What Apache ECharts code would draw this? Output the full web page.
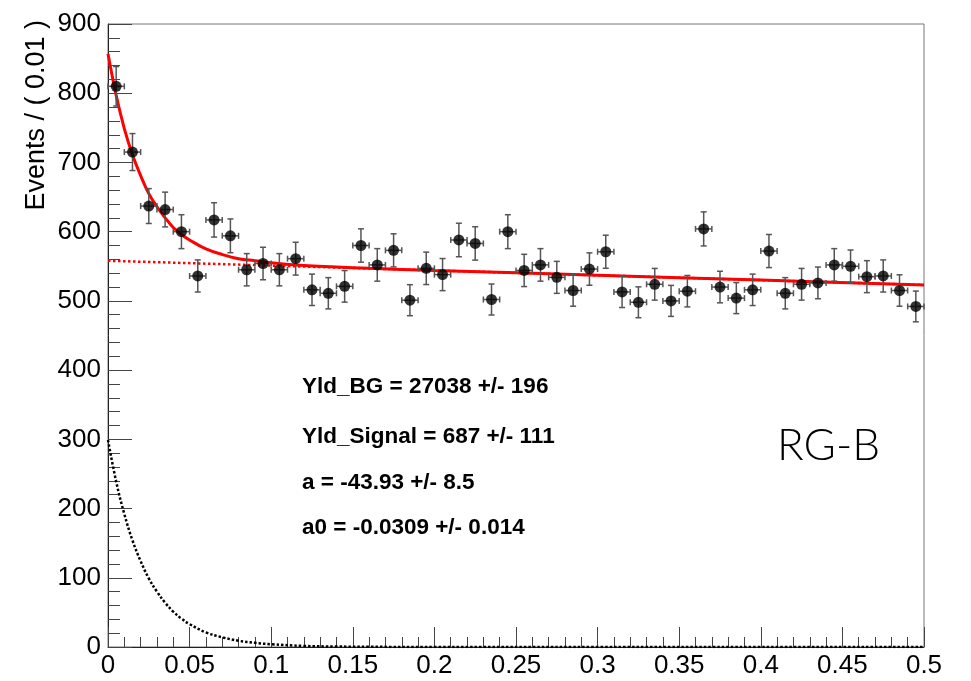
<!DOCTYPE html>
<html><head><meta charset="utf-8">
<script src="https://cdn.jsdelivr.net/npm/echarts@6/dist/echarts.min.js"></script>
<style>html,body{margin:0;padding:0;background:#fff}#c{width:971px;height:681px}</style>
</head><body><div id="c"></div>
<script>
// Data
const binCenters = [0.005,0.015,0.025,0.035,0.045,0.055,0.065,0.075,0.085,0.095,
  0.105,0.115,0.125,0.135,0.145,0.155,0.165,0.175,0.185,0.195,
  0.205,0.215,0.225,0.235,0.245,0.255,0.265,0.275,0.285,0.295,
  0.305,0.315,0.325,0.335,0.345,0.355,0.365,0.375,0.385,0.395,
  0.405,0.415,0.425,0.435,0.445,0.455,0.465,0.475,0.485,0.495];
const counts = [810,715,637,632,600,536,617,594,545,554,
  545,561,516,511,521,580,552,573,501,547,
  538,588,583,502,600,544,552,534,515,546,
  571,513,498,524,500,514,604,520,504,516,
  572,511,524,526,552,550,535,536,515,492];
const errors = [28.5,26.7,25.2,25.1,24.5,23.2,24.8,24.4,23.3,23.5,
  23.3,23.7,22.7,22.6,22.8,24.1,23.5,23.9,22.4,23.4,
  23.2,24.2,24.1,22.4,24.5,23.3,23.5,23.1,22.7,23.4,
  23.9,22.6,22.3,22.9,22.4,22.7,24.6,22.8,22.4,22.7,
  23.9,22.6,22.9,22.9,23.5,23.5,23.1,23.2,22.7,22.2];
const halfBin = 0.005;

const curveX = [0,0.005,0.01,0.015,0.02,0.025,0.03,0.035,0.04,0.045,0.05,0.06,0.07,0.08,0.09,0.1,0.12,0.14,0.16,0.2,0.3,0.4,0.5];
const signalY = [299,239,192,154,124,99,80,64,51,41,33,21,14,9,6,4,1.5,0.7,0.3,0,0,0,0];
const totalY = [857,797,749,711,681,655,636,620,606,596,588,575,567,561,558,555,551,549,547,544,537,530,523];
const bgX = [0,0.5];
const bgY = [558,523];

const xTicks = {min:0,max:0.5,interval:0.05};
const yTicks = {min:0,max:900,interval:100};

const statLines = ["Yld_BG = 27038 +/- 196","Yld_Signal = 687 +/- 111","a = -43.93 +/- 8.5","a0 = -0.0309 +/- 0.014"];
const yTitle = "Events / ( 0.01 )";
const tag = "RG-B";

const pts = binCenters.map((x,i)=>[x,counts[i],errors[i]]);
const zip = (a,b)=>a.map((v,i)=>[v,b[i]]);

const chart = echarts.init(document.getElementById('c'));
const font = '"Liberation Sans", Arial, Helvetica, sans-serif';
chart.setOption({
  animation:false,
  grid:{left:108,right:47,top:24,bottom:34,show:true,borderColor:'#777',borderWidth:1},
  xAxis:{type:'value',min:xTicks.min,max:xTicks.max,interval:xTicks.interval,
    axisLine:{lineStyle:{color:'#222',width:1}},
    axisTick:{inside:true,length:20,lineStyle:{color:'#444'}},
    minorTick:{show:true,splitNumber:5,length:10,lineStyle:{color:'#444'}},
    splitLine:{show:false},
    axisLabel:{fontFamily:font,fontSize:26,color:'#000',margin:6,
      formatter:v=>String(parseFloat(v.toFixed(3)))}},
  yAxis:{type:'value',min:yTicks.min,max:yTicks.max,interval:yTicks.interval,
    axisLine:{show:true,lineStyle:{color:'#222',width:1}},
    axisTick:{inside:true,length:24,lineStyle:{color:'#444'}},
    minorTick:{show:true,splitNumber:5,length:12,lineStyle:{color:'#444'}},
    splitLine:{show:false},
    axisLabel:{fontFamily:font,fontSize:26,color:'#000',margin:7}},
  graphic:[
    {type:'text',x:37,y:20,rotation:Math.PI/2,style:{text:yTitle,fontFamily:font,fontSize:27,fill:'#000',align:'right',verticalAlign:'middle'}},
    ...statLines.map((t,i)=>({type:'text',left:302,top:[375,425,471,516][i],style:{text:t,fontFamily:font,fontWeight:'bold',fontSize:22.5,fill:'#000'}})),
    {type:'text',left:777,top:424,style:{text:tag,fontFamily:'Lato, "Open Sans", sans-serif',fontWeight:300,fontSize:44,fill:'#000'}}
  ],
  series:[
    {type:'line',data:zip(bgX,bgY),showSymbol:false,lineStyle:{color:'#ff0000',width:2.5,type:[2.5,2.5]},z:2},
    {type:'line',data:zip(curveX,signalY),smooth:0.4,showSymbol:false,lineStyle:{color:'#000',width:2.5,type:[2.5,2]},z:2},
    {type:'line',data:zip(curveX,totalY),smooth:0.4,showSymbol:false,lineStyle:{color:'#ff0000',width:3},z:3},
    {type:'custom',data:pts,z:4,
      renderItem:(params,api)=>{
        const x=api.value(0),y=api.value(1),e=api.value(2);
        const c=api.coord([x,y]);
        const top=api.coord([x,y+e]), bot=api.coord([x,y-e]);
        const l=api.coord([x-halfBin,y]), r=api.coord([x+halfBin,y]);
        const st={stroke:'#555',lineWidth:1.5};
        const cap=3;
        return {type:'group',children:[
          {type:'line',shape:{x1:c[0],y1:top[1],x2:c[0],y2:bot[1]},style:st},
          {type:'line',shape:{x1:c[0]-cap,y1:top[1],x2:c[0]+cap,y2:top[1]},style:st},
          {type:'line',shape:{x1:c[0]-cap,y1:bot[1],x2:c[0]+cap,y2:bot[1]},style:st},
          {type:'line',shape:{x1:l[0],y1:c[1],x2:r[0],y2:c[1]},style:st},
          {type:'line',shape:{x1:l[0],y1:c[1]-cap,x2:l[0],y2:c[1]+cap},style:st},
          {type:'line',shape:{x1:r[0],y1:c[1]-cap,x2:r[0],y2:c[1]+cap},style:st}
        ]};
      }},
    {type:'scatter',data:pts.map(p=>[p[0],p[1]]),symbol:'circle',symbolSize:11,itemStyle:{color:'#000'},z:5}
  ]
});
</script></body></html>
